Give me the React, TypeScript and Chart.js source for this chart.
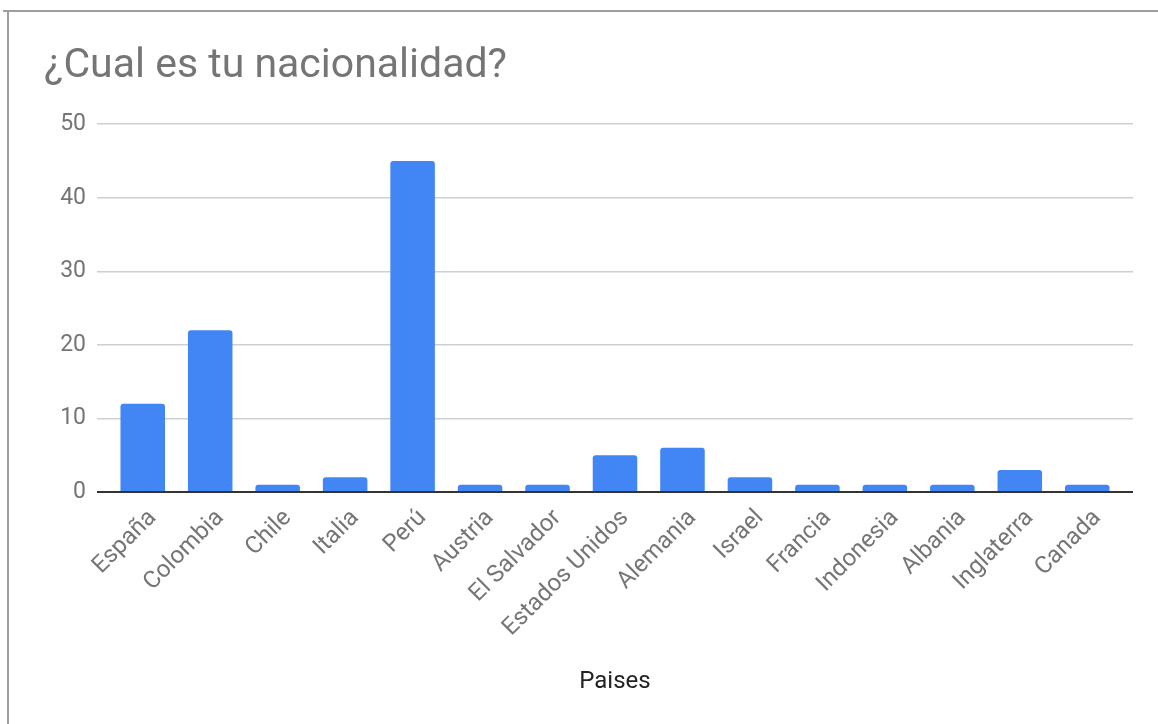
import React, { useEffect, useRef } from 'react';
import { Chart, registerables } from 'chart.js';

Chart.register(...registerables);

const chartTitle = '¿Cual es tu nacionalidad?';
const xAxisTitle = 'Paises';
const categories = [
  'España', 'Colombia', 'Chile', 'Italia', 'Perú', 'Austria', 'El Salvador',
  'Estados Unidos', 'Alemania', 'Israel', 'Francia', 'Indonesia', 'Albania',
  'Inglaterra', 'Canada',
];
const counts = [12, 22, 1, 2, 45, 1, 1, 5, 6, 2, 1, 1, 1, 3, 1];
const yMin = 0;
const yMax = 50;
const yStep = 10;

const FONT = 'Roboto, "Noto Sans", Arial, sans-serif';

export default function App() {
  const canvasRef = useRef<HTMLCanvasElement | null>(null);

  useEffect(() => {
    if (!canvasRef.current) return;
    const gridColor = (ctx: any) => (ctx.tick && ctx.tick.value === 0 ? '#333333' : '#cfcfcf');
    const gridWidth = (ctx: any) => (ctx.tick && ctx.tick.value === 0 ? 2 : 1.5);
    const chart = new Chart(canvasRef.current, {
      type: 'bar',
      data: {
        labels: categories,
        datasets: [
          {
            label: 'Respuestas',
            data: counts,
            backgroundColor: '#4285F4',
            borderRadius: 3,
            barPercentage: 0.66,
            categoryPercentage: 1,
          },
        ],
      },
      options: {
        animation: false,
        responsive: true,
        maintainAspectRatio: false,
        layout: { padding: { left: 44, right: 25, top: 0, bottom: 0 } },
        plugins: {
          legend: { display: false },
          tooltip: { enabled: false },
          title: {
            display: true,
            text: chartTitle,
            align: 'start',
            color: '#757575',
            font: { family: FONT, size: 41, weight: 'normal' },
            padding: { top: 42, bottom: 33 },
          },
        },
        scales: {
          x: {
            type: 'category',
            z: 1,
            grid: { display: false, drawTicks: false },
            border: { display: true, color: '#333333', width: 2 },
            ticks: {
              autoSkip: false,
              minRotation: 45,
              maxRotation: 45,
              padding: 12,
              labelOffset: 10,
              color: '#757575',
              font: { family: FONT, size: 24 },
            },
            title: {
              display: true,
              text: xAxisTitle,
              color: '#222222',
              font: { family: FONT, size: 24 },
              padding: { top: 0, bottom: 28 },
            },
            afterFit: (scale: any) => {
              scale.height = 232;
            },
          },
          y: {
            type: 'linear',
            position: 'left',
            min: yMin,
            max: yMax,
            grid: {
              color: gridColor,
              tickColor: gridColor,
              lineWidth: gridWidth,
              drawTicks: true,
              tickLength: 12,
            },
            border: { display: false },
            ticks: {
              stepSize: yStep,
              padding: 11,
              color: '#757575',
              font: { family: FONT, size: 23 },
            },
            afterFit: (scale: any) => {
              scale.width = 65;
            },
          },
          y2: {
            type: 'linear',
            position: 'right',
            min: yMin,
            max: yMax,
            grid: {
              drawOnChartArea: false,
              color: gridColor,
              tickColor: gridColor,
              lineWidth: gridWidth,
              drawTicks: true,
              tickLength: 12,
            },
            border: { display: false },
            ticks: { display: false, stepSize: yStep },
            afterFit: (scale: any) => {
              scale.width = 12;
            },
          },
        },
      },
    });
    return () => chart.destroy();
  }, []);

  return (
    <div style={{ position: 'fixed', left: 0, top: 0, width: 1158, height: 724, background: '#ffffff' }}>
      <div style={{ position: 'absolute', left: 0, top: 0, width: 1158, height: 724 }}>
        <canvas ref={canvasRef} />
      </div>
      <div style={{ position: 'absolute', left: 3, top: 10, width: 1155, height: 2, background: '#9e9e9e' }} />
      <div style={{ position: 'absolute', left: 7, top: 10, width: 2, height: 714, background: '#9e9e9e' }} />
    </div>
  );
}
